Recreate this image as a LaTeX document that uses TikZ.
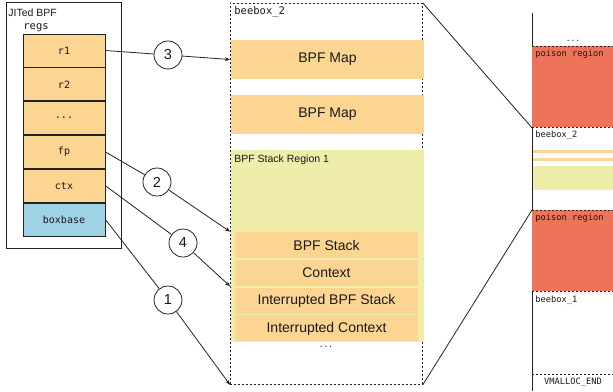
\documentclass[tikz,border=0pt]{standalone}
\usepackage{fontspec}
\setmainfont{Liberation Sans}
\setmonofont{DejaVu Sans Mono}
\usetikzlibrary{arrows.meta, positioning}
\definecolor{RegOrange}{HTML}{FCD592}
\definecolor{BaseBlue}{HTML}{9DD3E5}
\definecolor{StackGreen}{HTML}{EEEEAA}
\definecolor{PoisonRed}{HTML}{EE7459}
\definecolor{LineGray}{HTML}{222222}
\begin{document}
\begin{tikzpicture}[x=1pt, y=-1pt, line width=0.8pt, text=black!90,
        reg/.style={rectangle, draw=LineGray, fill=RegOrange, minimum width=82pt, minimum height=33pt, inner sep=0pt, font=\fontsize{10}{12}\ttfamily},
        mapbox/.style={rectangle, fill=RegOrange, minimum width=193pt, minimum height=39pt, inner sep=0pt, font=\fontsize{14}{16}\selectfont},
        framebox/.style={rectangle, fill=RegOrange, minimum width=183pt, minimum height=26pt, inner sep=0pt, font=\fontsize{14}{16}\selectfont},
        poison/.style={rectangle, fill=PoisonRed, minimum width=81pt, minimum height=81pt, inner sep=0pt, anchor=north west},
        numcircle/.style={circle, draw=LineGray, fill=white, minimum size=28pt, inner sep=0pt, font=\fontsize{14.5}{16}\selectfont},
        sanstxt/.style={anchor=west, inner sep=0pt, font=\fontsize{10.5}{12}\selectfont},
        monotxt/.style={anchor=west, inner sep=0pt, font=\fontsize{10.5}{12}\ttfamily},
        smallmono/.style={anchor=west, inner sep=0pt, font=\fontsize{8.7}{10}\ttfamily},
        dashedline/.style={LineGray, dash pattern=on 2pt off 2pt},
        link/.style={LineGray},
        arrow/.style={-{Stealth[length=5pt, width=4pt]}, LineGray}
    ]
        \useasboundingbox (0,0) rectangle (613,391);
        \node[draw=LineGray, rectangle, minimum width=115pt, minimum height=246pt, anchor=north west, inner sep=0pt] (jit) at (6,2) {};
        \node[sanstxt] (jitname) at (8,13) {JITed BPF};
        \node[monotxt] (regs) at (23,28) {regs};
        \node[reg] (r1) at (64,50.5) {r1};
        \node[reg, below=0pt of r1] (r2) {r2};
        \node[reg, below=0pt of r2] (rdots) {...};
        \node[reg, below=0pt of rdots] (fp) {fp};
        \node[reg, below=0pt of fp] (ctx) {ctx};
        \node[reg, fill=BaseBlue, below=0pt of ctx] (boxbase) {boxbase};
        \node[draw=LineGray, dash pattern=on 2pt off 2pt, rectangle, minimum width=192pt, minimum height=381pt, anchor=north west, inner sep=0pt] (beebox) at (230,3) {};
        \node[monotxt] (boxname) at (234,12) {beebox\_2};
        \node[mapbox] (map1) at (327.5,59.5) {BPF Map};
        \node[mapbox] (map2) at (327.5,114.5) {BPF Map};
        \node[rectangle, fill=StackGreen, minimum width=193pt, minimum height=192pt, anchor=north west, inner sep=0pt] (region) at (231,150) {};
        \node[sanstxt] (regionname) at (234,160) {BPF Stack Region 1};
        \node[framebox] (stack) at (326.5,245) {BPF Stack};
        \node[framebox, below=1pt of stack] (context) {Context};
        \node[framebox, below=1pt of context] (istack) {Interrupted BPF Stack};
        \node[framebox, below=1pt of istack] (icontext) {Interrupted Context};
        \node[inner sep=0pt, font=\fontsize{8}{10}\ttfamily] (middots) at (326,347) {...};
        \draw[LineGray] (532,13) coordinate (vtop) -- (532,391) coordinate (vbottom);
        \node[inner sep=0pt, font=\fontsize{8}{10}\ttfamily] (topdots) at (573,41) {...};
        \node[poison] (poison2) at (532,46) {};
        \draw[dashedline] (poison2.north west) -- (poison2.north east);
        \draw[dashedline] (poison2.south west) -- (poison2.south east);
        \node[smallmono] at (535,54) {poison region};
        \node[smallmono] (rbox2) at (535,135) {beebox\_2};
        \fill[RegOrange] (533,150) rectangle (613,153);
        \fill[RegOrange] (533,158) rectangle (613,161);
        \fill[StackGreen] (533,166) rectangle (613,190);
        \node[poison] (poison1) at (532,210) {};
        \draw[dashedline] (poison1.north west) -- (poison1.north east);
        \draw[dashedline] (poison1.south west) -- (poison1.south east);
        \node[smallmono] at (535,218) {poison region};
        \node[smallmono] (rbox1) at (535,300) {beebox\_1};
        \draw[dashedline] (532,374) coordinate (vend) -- (613,374);
        \node[inner sep=0pt, font=\fontsize{8.7}{10}\ttfamily] (vmalloc) at (573,382) {VMALLOC\_END};
        \draw[link] (beebox.north east) -- (poison2.south west);
        \draw[link] (beebox.south east) -- (poison1.north west);
        \node[numcircle] (c3) at (168,55) {3};
        \node[numcircle] (c2) at (157,182) {2};
        \node[numcircle] (c4) at (183,243) {4};
        \node[numcircle] (c1) at (168,300) {1};
        \draw[link] (r1.east) -- (c3);
        \draw[arrow] (c3) -- (beebox.west |- map1.west);
        \draw[link] (fp.east) -- (c2);
        \draw[arrow] (c2) -- (beebox.west |- stack.north);
        \draw[link] (ctx.east) -- (c4);
        \draw[arrow] (c4) -- (beebox.west |- context.south);
        \draw[link] (boxbase.east) -- (c1);
        \draw[arrow] (c1) -- (beebox.south west);
    \end{tikzpicture}
\end{document}
